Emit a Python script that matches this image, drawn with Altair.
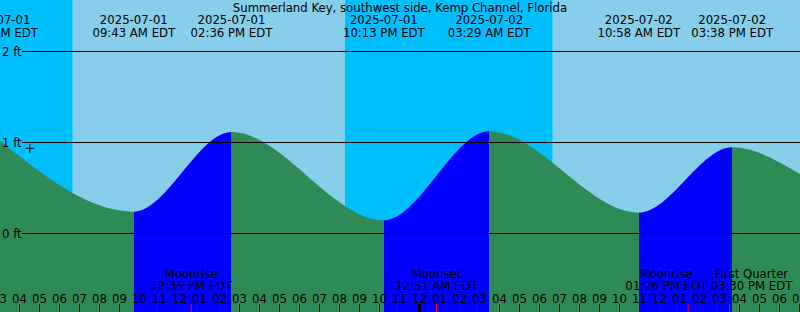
import altair as alt
import pandas as pd

T0 = pd.Timestamp("2025-07-01 00:00")


def hrs(s):
    return (pd.Timestamp(s) - T0).total_seconds() / 3600.0


FONT = "DejaVu Sans"
FS = 11.7
W, H = 800, 312

title_text = "Summerland Key, southwest side, Kemp Channel, Florida"

window_start = "2025-07-01 03:01:30"
window_end = "2025-07-02 19:01:30"

# High / low tides
tide_times = ["2025-07-01 02:51", "2025-07-01 09:43", "2025-07-01 14:36", "2025-07-01 22:13",
              "2025-07-02 03:29", "2025-07-02 10:58", "2025-07-02 15:38"]
tide_levels = [1.05, 0.24, 1.115, 0.145, 1.123, 0.229, 0.947]
tide_kinds = ["high", "low", "high", "low", "high", "low", "high"]
tide_dates = ["2025-07-01", "2025-07-01", "2025-07-01", "2025-07-01",
              "2025-07-02", "2025-07-02", "2025-07-02"]
tide_clock = ["02:51 AM EDT", "09:43 AM EDT", "02:36 PM EDT", "10:13 PM EDT",
              "03:29 AM EDT", "10:58 AM EDT", "03:38 PM EDT"]

# level read at the right edge of the graph
end_time = "2025-07-02 19:01:30"
end_level = 0.654

# sun
sunset_times = ["2025-06-30 20:16", "2025-07-01 20:16", "2025-07-02 20:16"]
sunrise_times = ["2025-07-01 06:40", "2025-07-02 06:40"]

# moon
moon_times = ["2025-07-01 12:35", "2025-07-02 00:51", "2025-07-02 13:26", "2025-07-02 15:30"]
moon_names = ["Moonrise", "Moonset", "Moonrise", "First Quarter"]
moon_clock = ["12:35 PM EDT", "12:51 AM EDT", "01:26 PM EDT", "03:30 PM EDT"]

# "now" marker
marker_time = "2025-07-01 04:31"
marker_level = 0.936

# grid
grid_levels = [0, 1, 2]
grid_labels = ["0 ft", "1 ft", "2 ft"]

# y domain (ft) covered by the 312 px tall picture
Y_MIN, Y_MAX = -0.8626, 2.5659

GREEN = "#2E8B57"
BLUE = "#0000FF"
DAY = "#87CEEB"
NIGHT = "#00BFFF"

h_start, h_end = hrs(window_start), hrs(window_end)
PX_PER_H = W / (h_end - h_start)

# ---------------- tables ----------------
tide_h = [hrs(t) for t in tide_times]
curve_df = pd.DataFrame({"h": tide_h + [hrs(end_time)], "v": tide_levels + [end_level]})
events_df = pd.DataFrame({"h": tide_h, "date": tide_dates, "clock": tide_clock})

sky_rows = []
for i, sr in enumerate(sunrise_times):
    sky_rows.append({"h": hrs(sunset_times[i]), "h2": hrs(sr), "kind": "night"})
    sky_rows.append({"h": hrs(sr), "h2": hrs(sunset_times[i + 1]), "kind": "day"})
sky_df = pd.DataFrame(sky_rows)

hours = list(range(int(h_start), int(h_end) + 1))
hour_lab = ["%02d" % (12 if h % 12 == 0 else h % 12) for h in hours]
hours_df = pd.DataFrame({"h": hours, "lab": hour_lab})
midnight_df = pd.DataFrame({"h": [h for h in hours if h % 24 == 0]})

# moon labels: keep adjacent labels from overlapping
moon_h = [hrs(t) for t in moon_times]
CHAR_W = 7.1
half = [CHAR_W * len(c) / 2 / PX_PER_H for c in moon_clock]
centers = list(moon_h)
for i in range(1, len(centers)):
    ov = (centers[i - 1] + half[i - 1]) - (centers[i] - half[i])
    if ov > 0:
        centers[i - 1] -= ov / 2
        centers[i] += ov / 2
moon_df = pd.DataFrame({"h": moon_h, "lh": centers, "name": moon_names, "clock": moon_clock})

grid_df = pd.DataFrame({"v": grid_levels, "lab": grid_labels})
marker_df = pd.DataFrame({"h": [hrs(marker_time)], "v": [marker_level]})
title_df = pd.DataFrame({"t": [title_text]})

# gradient: blue under rising tide, green under falling tide
g0, g1 = curve_df["h"].min(), curve_df["h"].max()
stops = [alt.GradientStop(color=GREEN, offset=0)]
for i, k in enumerate(tide_kinds[:-1]):
    if k == "low":
        a = (tide_h[i] - g0) / (g1 - g0)
        b = (tide_h[i + 1] - g0) / (g1 - g0)
        stops += [alt.GradientStop(color=GREEN, offset=a), alt.GradientStop(color=BLUE, offset=a),
                  alt.GradientStop(color=BLUE, offset=b), alt.GradientStop(color=GREEN, offset=b)]
stops.append(alt.GradientStop(color=GREEN, offset=1))
grad = alt.LinearGradient(gradient="linear", stops=stops, x1=0, x2=1, y1=0, y2=0)

xs = alt.Scale(domain=[h_start, h_end], nice=False, zero=False)
ys = alt.Scale(domain=[Y_MIN, Y_MAX], nice=False, zero=False)


def X(f):
    return alt.X(f, type="quantitative", scale=xs, axis=None)


def Y(f):
    return alt.Y(f, type="quantitative", scale=ys, axis=None)


txt = dict(font=FONT, fontSize=FS, color="black")

sky = alt.Chart(sky_df).mark_rect(clip=True).encode(
    x=X("h"), x2="h2", y=alt.value(0), y2=alt.value(H),
    color=alt.Color("kind:N", scale=alt.Scale(domain=["day", "night"], range=[DAY, NIGHT]), legend=None),
)

tide = alt.Chart(curve_df).mark_area(
    interpolate="monotone", orient="vertical", clip=True, color=grad, strokeWidth=0
).encode(x=X("h"), y=Y("v"), y2=alt.datum(Y_MIN))

grid = alt.Chart(grid_df).mark_rule(color="black", strokeWidth=1).encode(
    y=Y("v"), x=alt.value(22), x2=alt.value(W)
)
grid_txt = alt.Chart(grid_df).mark_text(align="left", baseline="alphabetic", dy=4.5, **txt).encode(
    x=alt.value(2), y=Y("v"), text="lab:N"
)

top_date = alt.Chart(events_df).mark_text(align="center", baseline="alphabetic", **txt).encode(
    x=X("h"), y=alt.value(24), text="date:N"
)
top_clock = alt.Chart(events_df).mark_text(align="center", baseline="alphabetic", **txt).encode(
    x=X("h"), y=alt.value(36.5), text="clock:N"
)

moon_name = alt.Chart(moon_df).mark_text(align="center", baseline="alphabetic", **txt).encode(
    x=X("lh"), y=alt.value(278.3), text="name:N"
)
moon_clk = alt.Chart(moon_df).mark_text(align="center", baseline="alphabetic", **txt).encode(
    x=X("lh"), y=alt.value(290.2), text="clock:N"
)

hour_ticks = alt.Chart(hours_df).mark_rule(color="black", strokeWidth=1).encode(
    x=X("h"), y=alt.value(304), y2=alt.value(H)
)
hour_txt = alt.Chart(hours_df).mark_text(align="center", baseline="alphabetic", **txt).encode(
    x=X("h"), y=alt.value(302.7), text="lab:N"
)
midnight = alt.Chart(midnight_df).mark_rule(color="black", strokeWidth=3).encode(
    x=X("h"), y=alt.value(304), y2=alt.value(H)
)
moon_ticks = alt.Chart(moon_df).mark_rule(color="#FF0000", strokeWidth=1).encode(
    x=X("h"), y=alt.value(304), y2=alt.value(H)
)

marker = alt.Chart(marker_df).mark_point(
    shape="M-1,0H1M0,-1V1", size=81, filled=False, stroke="black", strokeWidth=1, opacity=1
).encode(x=X("h"), y=Y("v"))

title = alt.Chart(title_df).mark_text(align="center", baseline="alphabetic", **txt).encode(
    x=alt.value(W / 2), y=alt.value(11.7), text="t:N"
)

chart = alt.layer(
    sky, tide, grid, grid_txt, top_date, top_clock, moon_name, moon_clk,
    hour_ticks, midnight, moon_ticks, hour_txt, marker, title
).properties(
    width=W, height=H, padding=0, autosize=alt.AutoSizeParams(type="none"), background="white"
).configure_view(stroke=None)

chart.save("out.html", embed_options={"renderer": "svg", "actions": False})
